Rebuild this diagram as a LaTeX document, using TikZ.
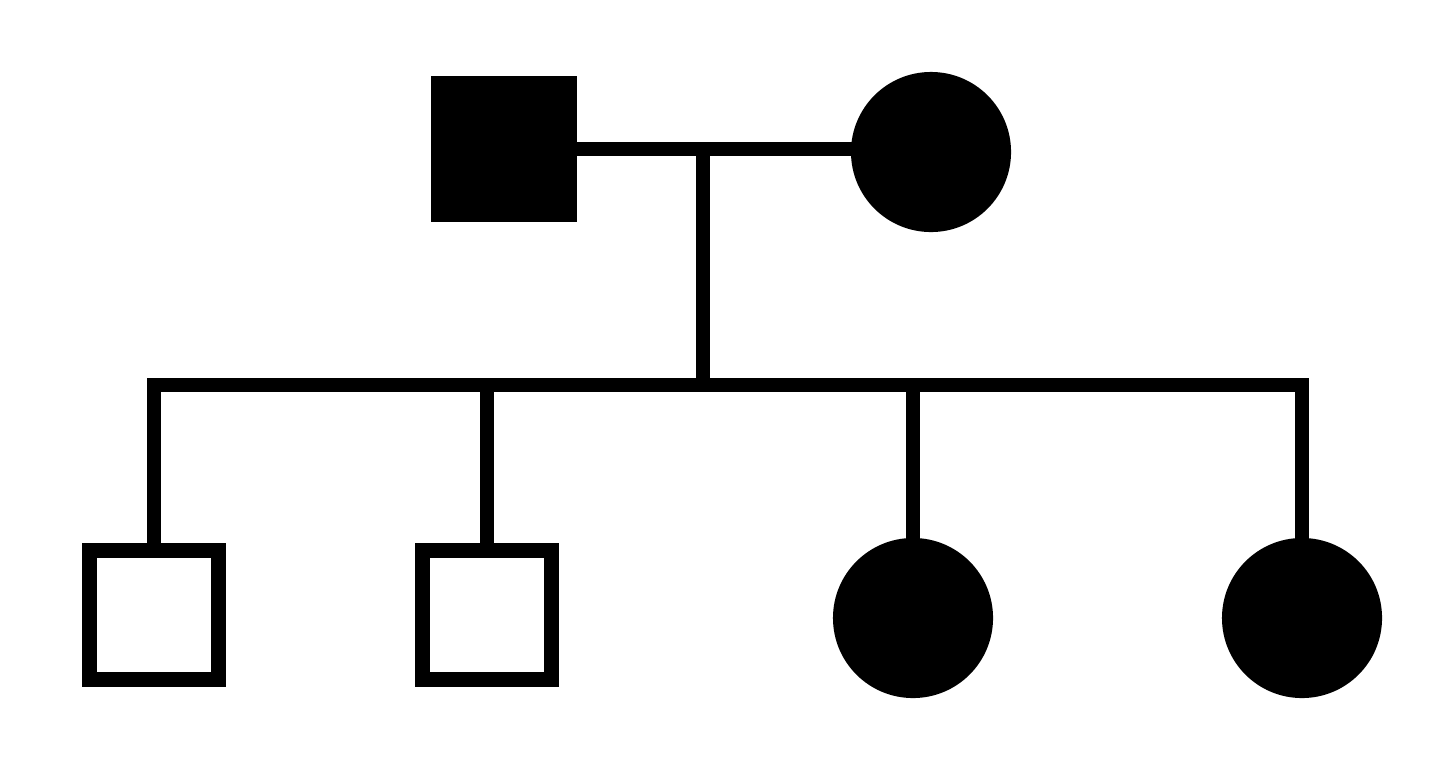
\documentclass[tikz,border=0pt]{standalone}
\begin{document}
\begin{tikzpicture}[x=0.01cm,y=-0.01cm,
  lw/.style={line width=0.145cm},
  affm/.style={rectangle,fill=black,minimum size=1.45cm,inner sep=0pt},
  affw/.style={circle,fill=black,minimum size=1.6cm,inner sep=0pt},
  unm/.style={rectangle,draw=black,lw,fill=white,minimum size=1.29cm,inner sep=0pt}]
\useasboundingbox (0,0) rectangle (1440,757);
\node[affm] (f) at (504,149) {};
\node[affw] (m) at (931,152) {};
\coordinate (mid) at (703,149);
\coordinate (sib) at (703,385);
\node[unm] (c1) at (154,615) {};
\node[unm] (c2) at (487,615) {};
\node[affw] (c3) at (913,618) {};
\node[affw] (c4) at (1302,618) {};
\draw[lw] (f.center) -- (f.center -| m.center);
\draw[lw] (mid) -- (sib);
\draw[lw,line join=miter] (c1.north) |- (sib) -| (c4.center);
\draw[lw] (c2.north) -- (c2.north |- sib);
\draw[lw] (c3.center) -- (c3.center |- sib);
\end{tikzpicture}
\end{document}
